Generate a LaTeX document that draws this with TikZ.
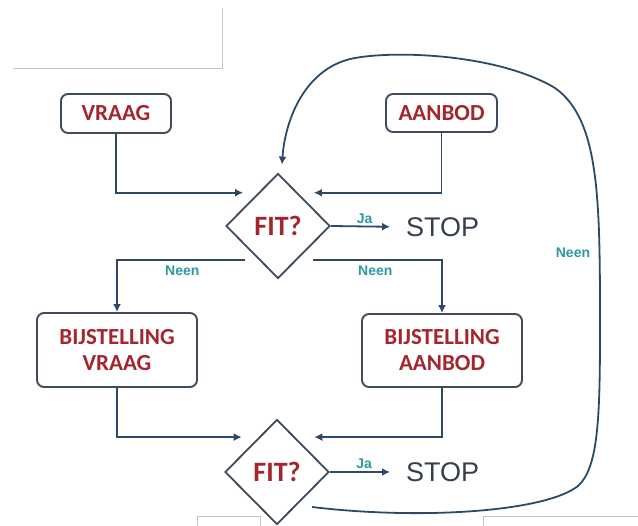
\documentclass[tikz,border=0pt]{standalone}
\usepackage{fontspec}
\setmainfont{Carlito}
\newfontfamily\arialf{Liberation Sans}
\usetikzlibrary{shapes.geometric,arrows.meta,calc}
\definecolor{boxred}{HTML}{A3262E}
\definecolor{lineblue}{HTML}{2C4A68}
\definecolor{boxborder}{HTML}{3E4B5B}
\definecolor{labelteal}{HTML}{2E9A9C}
\definecolor{stopgray}{HTML}{34404C}
\definecolor{framegray}{HTML}{C4C4C4}
\begin{document}
\begin{tikzpicture}[x=1pt,y=-1pt,
  box/.style={draw=boxborder, line width=1.9pt, rounded corners=7pt, fill=white,
    font=\bfseries\fontsize{23}{26}\selectfont, text=boxred, align=center, inner sep=0pt},
  dec/.style={diamond, draw=boxborder, line width=1.8pt, minimum width=104pt, minimum height=105pt,
    inner sep=0pt, font=\bfseries\fontsize{28}{30}\selectfont, text=boxred},
  conn/.style={draw=lineblue, line width=1.8pt, -{Latex[length=8pt,width=8pt]}},
  lbl/.style={font=\arialf\bfseries\fontsize{14}{15}\selectfont, text=labelteal, inner sep=1pt},
  stoptxt/.style={font=\arialf\fontsize{27}{29}\selectfont, text=stopgray, inner sep=0pt, anchor=west},
  frame/.style={draw=framegray, line width=1pt}]
\useasboundingbox (0,0) rectangle (638,526);
\fill[white] (0,0) rectangle (638,526);
% decorative frame lines
\draw[frame] (13,69) -- (222,69) -- (222,8);
\draw[frame] (197,526) -- (197,517) -- (260,517) -- (260,526);
\draw[frame] (483,526) -- (483,517) -- (638,517);
% nodes
\node[box, minimum width=110pt, minimum height=39pt] (vraag) at (116,113.5) {VRAAG};
\node[box, minimum width=111pt, minimum height=38pt] (aanbod) at (441.5,113) {AANBOD};
\node[dec] (fit1) at (278,226) {FIT?};
\node[stoptxt] (stop1) at (406,227) {STOP};
\node[box, minimum width=160pt, minimum height=74pt] (bv) at (117,350) {BIJSTELLING\\VRAAG};
\node[box, minimum width=160pt, minimum height=73pt] (ba) at (442,350.5) {BIJSTELLING\\AANBOD};
\node[dec] (fit2) at (277,472) {FIT?};
\node[stoptxt] (stop2) at (406,472) {STOP};
\node[lbl] (neen3) at (573,253) {Neen};
\coordinate (loopstart) at ($(fit2.center)+(35,35)$);
\coordinate (loopend) at ($(fit1.north)+(4,-8)$);
% connectors
\draw[conn, shorten >=15pt] (vraag.south) |- ($(fit1.west)!0.623!(fit1.north)$);
\draw[conn, shorten >=16pt] (aanbod.south) |- ($(fit1.east)!0.623!(fit1.north)$);
\draw[conn, shorten >=16pt] (fit1.east) -- node[lbl, above=1pt, pos=0.45] {Ja} (stop1.west);
\draw[conn, shorten <=14pt] ($(fit1.west)!0.64!(fit1.south)$) -| node[lbl, below=4pt, pos=0.27] {Neen} (bv.north);
\draw[conn, shorten <=16pt] ($(fit1.east)!0.64!(fit1.south)$) -| node[lbl, below=4pt, pos=0.27] {Neen} (ba.north);
\draw[conn, shorten >=17pt] (bv.south) |- ($(fit2.west)!0.654!(fit2.north)$);
\draw[conn, shorten >=19pt] (ba.south) |- ($(fit2.east)!0.654!(fit2.north)$);
\draw[conn, shorten >=16pt] (fit2.east) -- node[lbl, above=1pt, pos=0.45] {Ja} (stop2.west);
\draw[conn] (loopstart) .. controls (420,520) and (545,512) .. (578,486)
  .. controls (598,468) and (600,420) .. (600,330)
  .. controls (600,200) and (600,120) .. (555,88)
  .. controls (500,55) and (400,50) .. (355,58)
  .. controls (305,67) and (285,120) .. (loopend);
\end{tikzpicture}
\end{document}
